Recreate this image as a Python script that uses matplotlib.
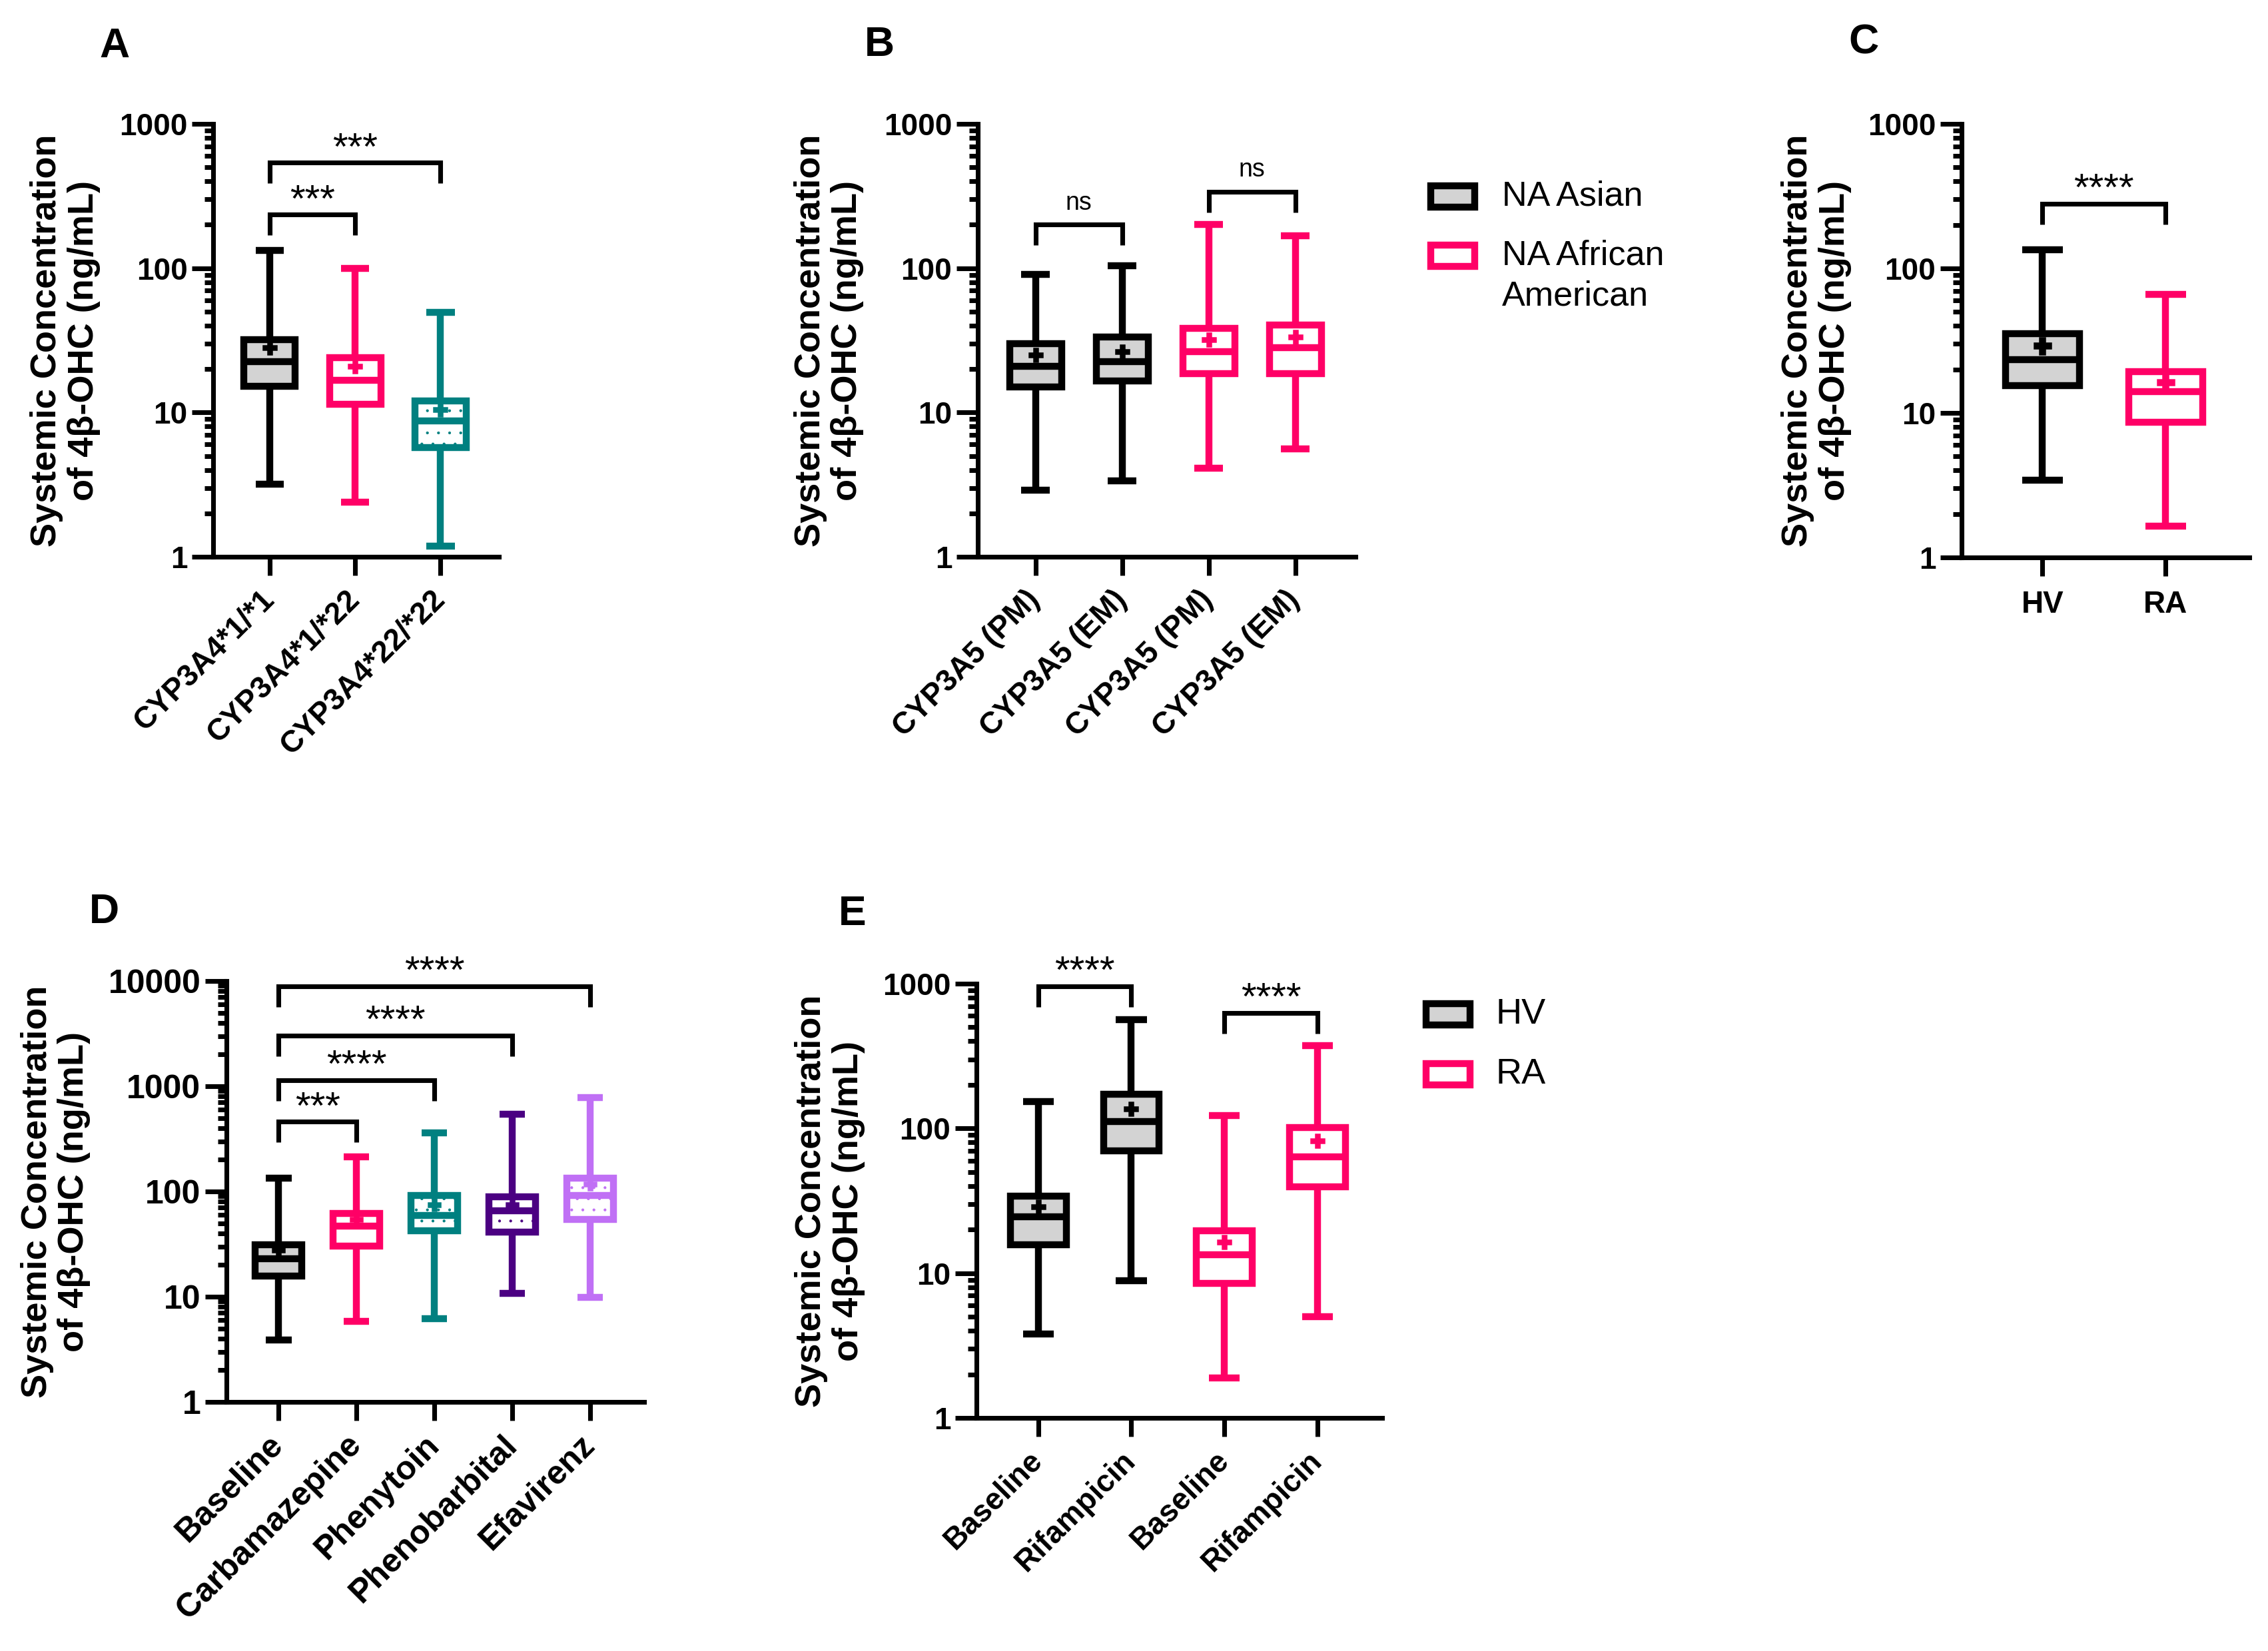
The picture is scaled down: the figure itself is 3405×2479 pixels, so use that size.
import matplotlib
matplotlib.use('Agg')
import matplotlib.pyplot as plt
from matplotlib.patches import Rectangle
from matplotlib.ticker import FixedLocator, NullFormatter, FixedFormatter, LogLocator
import numpy as np

plt.rcParams['font.family'] = ['Liberation Sans', 'DejaVu Sans']
plt.rcParams['hatch.linewidth'] = 0.2
plt.rcParams['lines.solid_capstyle'] = 'butt'

W, H, DPI = 3405, 2479, 300

BLACK = '#000000'
PINK = '#FF0066'
TEAL = '#008080'
PURPLE = '#4B0082'
LILAC = '#C070F5'
GREY = '#D3D3D3'

# ---- data (ng/mL) ----
# A: CYP3A4 genotype
a_labels = ['CYP3A4*1/*1', 'CYP3A4*1/*22', 'CYP3A4*22/*22']
a_lo = [3.2, 2.4, 1.18]
a_q1 = [15.2, 11.4, 5.7]
a_med = [22.6, 16.7, 8.7]
a_q3 = [32, 24, 12]
a_hi = [133, 100, 49.5]
a_mean = [28, 20.8, 10.5]
a_pairs = [(0, 1), (0, 2)]
a_bars = [235, 538]
a_sig = ['***', '***']

# B: CYP3A5 phenotype by ancestry
b_labels = ['CYP3A5 (PM)', 'CYP3A5 (EM)', 'CYP3A5 (PM)', 'CYP3A5 (EM)']
b_lo = [2.9, 3.35, 4.1, 5.6]
b_q1 = [15.1, 16.5, 18.5, 18.5]
b_med = [21, 22.5, 26.4, 28.2]
b_q3 = [30.1, 33.2, 38.2, 40.4]
b_hi = [90.6, 104, 200, 167]
b_mean = [25, 26.5, 31.9, 33.2]
b_pairs = [(0, 1), (2, 3)]
b_bars = [200, 338]
b_sig = ['ns', 'ns']

# C: healthy volunteers vs rheumatoid arthritis
c_labels = ['HV', 'RA']
c_lo = [3.43, 1.65]
c_q1 = [15.5, 8.6]
c_med = [23.3, 14.0]
c_q3 = [35.5, 19.4]
c_hi = [135, 65.8]
c_mean = [29.2, 16.3]
c_pairs = [(0, 1)]
c_bars = [280]
c_sig = ['****']

# D: inducers
d_labels = ['Baseline', 'Carbamazepine', 'Phenytoin', 'Phenobarbital', 'Efavirenz']
d_lo = [3.87, 5.87, 6.14, 10.7, 9.84]
d_q1 = [15.6, 30.2, 42.5, 41, 54]
d_med = [22.9, 46.9, 59, 65.2, 91.6]
d_q3 = [31.2, 61.7, 91.6, 88.5, 134.5]
d_hi = [134.5, 213, 361, 543, 781]
d_mean = [27.9, 54, 75, 75, 117]
d_pairs = [(0, 1), (0, 2), (0, 3), (0, 4)]
d_bars = [460, 1148, 3048, 8960]
d_sig = ['***', '****', '****', '****']

# E: rifampicin in HV and RA
e_labels = ['Baseline', 'Rifampicin', 'Baseline', 'Rifampicin']
e_lo = [3.8, 8.86, 1.89, 5.0]
e_q1 = [15.7, 70, 8.5, 39.4]
e_med = [24.4, 111, 13.4, 63.5]
e_q3 = [34.1, 172.5, 19.6, 101]
e_hi = [153, 563, 122.5, 374]
e_mean = [28.6, 137, 16.4, 82]
e_pairs = [(0, 1), (2, 3)]
e_bars = [961, 629]
e_sig = ['****', '****']

LW = 2.5      # box / whisker width (pt)
AXLW = 1.7    # spine width (pt)


def add_axes_px(fig, x0, x1, ytop, ybot):
    return fig.add_axes([x0 / W, 1 - ybot / H, (x1 - x0) / W, (ybot - ytop) / H])


def px_to_fig(x, y):
    return x / W, 1 - y / H


def style_axes(ax, ymax, xlim, labels, rot=45, label_off_px=-222, fs=11):
    ax.set_yscale('log')
    ax.set_ylim(1, ymax)
    ax.set_xlim(*xlim)
    for s in ['top', 'right']:
        ax.spines[s].set_visible(False)
    for s in ['left', 'bottom']:
        ax.spines[s].set_linewidth(AXLW)
    majors = [10 ** k for k in range(int(round(np.log10(ymax))) + 1)]
    ax.yaxis.set_major_locator(FixedLocator(majors))
    ax.yaxis.set_major_formatter(FixedFormatter([str(m) for m in majors]))
    ax.yaxis.set_minor_locator(LogLocator(base=10, subs=np.arange(2, 10)))
    ax.yaxis.set_minor_formatter(NullFormatter())
    ax.tick_params(axis='y', which='major', length=7.7, width=AXLW, pad=1.5,
                   labelsize=fs)
    ax.tick_params(axis='y', which='minor', length=3.2, width=AXLW)
    ax.tick_params(axis='x', which='major', length=6.8, width=AXLW, labelsize=fs,
                   pad=7 if rot else 5)
    ax.set_xticks(np.arange(len(labels)))
    if rot:
        ax.set_xticklabels(labels, rotation=45, ha='right', va='center',
                           rotation_mode='anchor', fontweight='bold')
    else:
        ax.set_xticklabels(labels, fontweight='bold')
    for t in ax.get_yticklabels():
        t.set_fontweight('bold')
    ax.set_ylabel('Systemic Concentration\nof 4\u03b2-OHC (ng/mL)', fontsize=13,
                  fontweight='bold', linespacing=1.15, va='center')
    bb = ax.get_position()
    ax.yaxis.set_label_coords(label_off_px / (bb.width * W), 0.5)


def draw_boxes(ax, lo, q1, med, q3, hi, mean, edges, faces, hatches, msize=5):
    stats = []
    for i in range(len(med)):
        stats.append(dict(whislo=lo[i], q1=q1[i], med=med[i], q3=q3[i],
                          whishi=hi[i], mean=mean[i], fliers=[]))
    pos = np.arange(len(med))
    art = ax.bxp(stats, positions=pos, widths=0.6, capwidths=0.33,
                 patch_artist=True, showmeans=True, manage_ticks=False)
    for i, box in enumerate(art['boxes']):
        box.set(facecolor=faces[i], edgecolor=edges[i], linewidth=LW,
                hatch=hatches[i], zorder=3, joinstyle='miter')
    for i, m in enumerate(art['medians']):
        m.set(color=edges[i], linewidth=LW, zorder=4)
    for j, w in enumerate(art['whiskers']):
        w.set(color=edges[j // 2], linewidth=LW, zorder=2)
    for j, c in enumerate(art['caps']):
        c.set(color=edges[j // 2], linewidth=LW, zorder=2)
    for i, m in enumerate(art['means']):
        m.set(marker='P', markersize=msize, markerfacecolor=edges[i],
              markeredgecolor=edges[i], markeredgewidth=0.6, zorder=5)


def brackets(ax, pairs, bars, sig, drop_px=31, fs=14, text_off=1.2):
    for (i, j), y, s in zip(pairs, bars, sig):
        ydisp = ax.transData.transform((0, y))[1]
        ylow = ax.transData.inverted().transform((0, ydisp - drop_px))[1]
        ax.plot([i, i, j, j], [ylow, y, y, ylow], color=BLACK, lw=AXLW,
                clip_on=False, solid_joinstyle='miter', zorder=6)
        if s == 'ns':
            ax.annotate(s, xy=((i + j) / 2, y), xytext=(0, 5.5),
                        textcoords='offset points', ha='center', va='baseline',
                        fontsize=9)
        else:
            ax.annotate(s, xy=((i + j) / 2, y), xytext=(0, text_off),
                        textcoords='offset points', ha='center', va='baseline',
                        fontsize=fs)


fig = plt.figure(figsize=(W / DPI, H / DPI), dpi=DPI)

# ---- A ----
axA = add_axes_px(fig, 320, 748.6, 186, 836)
style_axes(axA, 1000, (-0.66, 2.68), a_labels, label_off_px=-222)
draw_boxes(axA, a_lo, a_q1, a_med, a_q3, a_hi, a_mean,
           [BLACK, PINK, TEAL], [GREY, 'white', 'white'], ['', '', '...'])
brackets(axA, a_pairs, a_bars, a_sig)

# ---- B ----
axB = add_axes_px(fig, 1467.5, 2035.5, 186, 836)
style_axes(axB, 1000, (-0.67, 3.7), b_labels, label_off_px=-223)
draw_boxes(axB, b_lo, b_q1, b_med, b_q3, b_hi, b_mean,
           [BLACK, BLACK, PINK, PINK], [GREY, GREY, 'white', 'white'], [''] * 4)
brackets(axB, b_pairs, b_bars, b_sig)

# ---- C ----
axC = add_axes_px(fig, 2944.6, 3376.7, 186, 837)
style_axes(axC, 1000, (-0.66, 1.68), c_labels, rot=0, label_off_px=-218)
draw_boxes(axC, c_lo, c_q1, c_med, c_q3, c_hi, c_mean,
           [BLACK, PINK], [GREY, 'white'], ['', ''], msize=6)
brackets(axC, c_pairs, c_bars, c_sig)

# ---- D ----
axD = add_axes_px(fig, 339.5, 966.5, 1473, 2105)
style_axes(axD, 10000, (-0.674, 4.69), d_labels, label_off_px=-256, fs=12)
draw_boxes(axD, d_lo, d_q1, d_med, d_q3, d_hi, d_mean,
           [BLACK, PINK, TEAL, PURPLE, LILAC], [GREY, 'white', 'white', 'white', 'white'],
           ['', '', '...', '...', '...'], msize=4.5)
brackets(axD, d_pairs, d_bars, d_sig)

# ---- E ----
axE = add_axes_px(fig, 1465.7, 2074.6, 1477, 2129)
style_axes(axE, 1000, (-0.665, 3.69), e_labels, label_off_px=-220)
draw_boxes(axE, e_lo, e_q1, e_med, e_q3, e_hi, e_mean,
           [BLACK, BLACK, PINK, PINK], [GREY, GREY, 'white', 'white'], [''] * 4)
brackets(axE, e_pairs, e_bars, e_sig)

# ---- panel letters ----
for letter, (x, y) in zip('ABCDE', [(172, 69), (1320, 67), (2798, 64), (156, 1369), (1280, 1372)]):
    fx, fy = px_to_fig(x, y)
    fig.text(fx, fy, letter, fontsize=15, fontweight='bold', ha='center', va='center')


# ---- legends ----
def legend_entry(xc, yc, edge, face, text, fs, tx, ty=None, va='center'):
    w, h = 66, 32
    x0, y0 = px_to_fig(xc - w / 2, yc + h / 2)
    r = Rectangle((x0, y0), w / W, h / H, transform=fig.transFigure,
                  facecolor=face, edgecolor=edge, linewidth=LW, joinstyle='miter')
    fig.add_artist(r)
    fx, fy = px_to_fig(tx, yc if ty is None else ty)
    fig.text(fx, fy, text, fontsize=fs, ha='left', va=va, linespacing=1.3)


legend_entry(2181, 295, BLACK, GREY, 'NA Asian', 12.5, 2255)
legend_entry(2181, 384, PINK, 'white', 'NA African\nAmerican', 12.5, 2255, ty=360, va='top')
legend_entry(2174, 1523, BLACK, GREY, 'HV', 13, 2246)
legend_entry(2174, 1613, PINK, 'white', 'RA', 13, 2246)

fig.savefig('out.png', dpi=DPI)
